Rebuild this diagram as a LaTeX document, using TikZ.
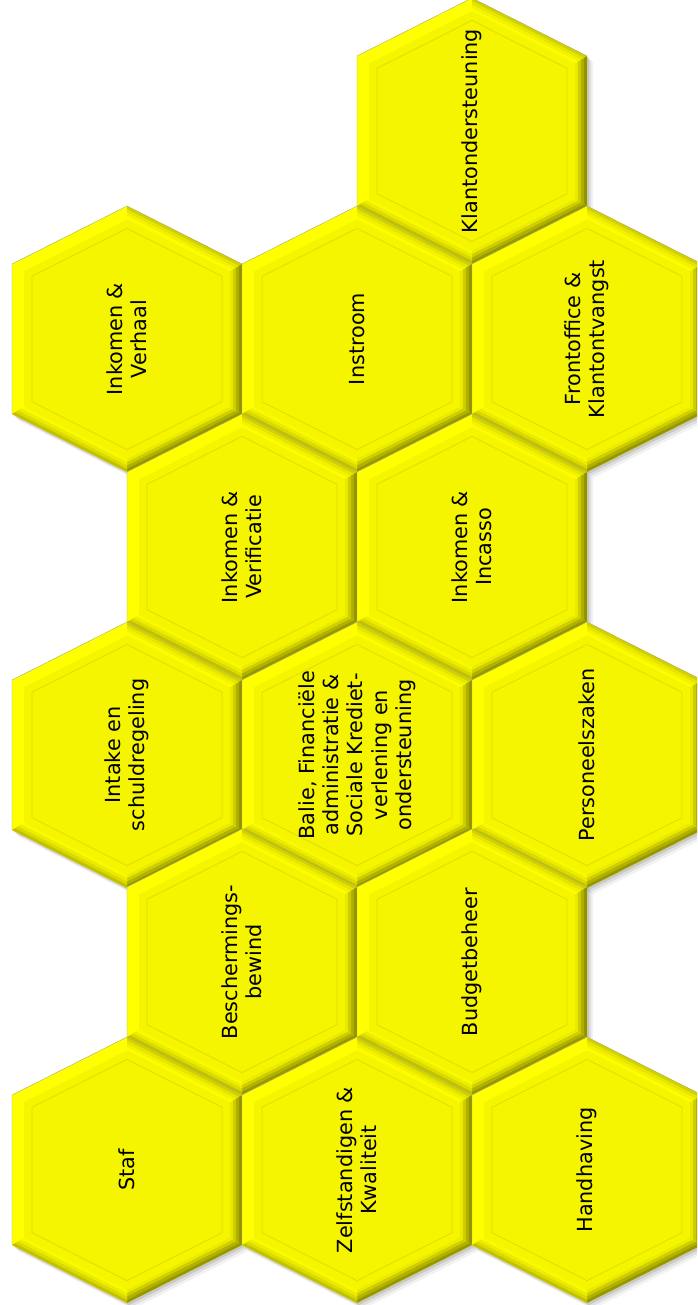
\documentclass[tikz,border=0pt]{standalone}
\usepackage{fontspec}
\setmainfont{DejaVu Sans}
\definecolor{hexfill}{RGB}{245,245,0}
\definecolor{bevlight}{RGB}{255,255,0}
\definecolor{bevdark}{RGB}{100,100,0}
\definecolor{engr}{RGB}{222,222,0}
\definecolor{hexrim}{RGB}{170,170,120}
\tikzset{
  hexlabel/.style={rotate=90, align=center, font=\fontsize{20.8}{24.3}\selectfont, text=black, inner sep=0pt},
}
\newcommand\hexshadow[2]{%
  \foreach \o/\op in {2/0.10,4/0.08,6/0.05}{%
    \fill[black, opacity=\op] ($(#1,#2)+(\o,\o)$) ++(0,-133) -- ++(115,58) -- ++(0,150) -- ++(-115,58) -- ++(-115,-58) -- ++(0,-150) -- cycle;
  }%
}
\newcommand\hexcell[4]{%
  \begin{scope}[shift={(#1,#2)}]
    \fill[bevlight] (0,-133) -- (115,-75) -- (115,75) -- (0,133) -- (-115,75) -- (-115,-75) -- cycle;
    \foreach \da/\db/\ptr/\pr/\pbr/\pbl in {0/3.2/70/30/33/60, 3/6.2/83/48/50/76, 6/9.2/92/67/69/88, 9/12/99/86/87/96}{%
      \pgfmathsetmacro\wa{115-\da}\pgfmathsetmacro\va{133-1.1203*\da}\pgfmathsetmacro\sa{75-0.616*\da}%
      \pgfmathsetmacro\wb{115-\db}\pgfmathsetmacro\vb{133-1.1203*\db}\pgfmathsetmacro\sb{75-0.616*\db}%
      \fill[bevlight!\ptr!bevdark] (0,-\va) -- (\wa,-\sa) -- (\wb,-\sb) -- (0,-\vb) -- cycle;
      \fill[bevlight!\pr!bevdark] (\wa,-\sa) -- (\wa,\sa) -- (\wb,\sb) -- (\wb,-\sb) -- cycle;
      \fill[bevlight!\pbr!bevdark] (\wa,\sa) -- (0,\va) -- (0,\vb) -- (\wb,\sb) -- cycle;
      \fill[bevlight!\pbl!bevdark] (0,\va) -- (-\wa,\sa) -- (-\wb,\sb) -- (0,\vb) -- cycle;
    }
    \fill[hexfill] (0,-119.6) -- (103,-67.6) -- (103,67.6) -- (0,119.6) -- (-103,67.6) -- (-103,-67.6) -- cycle;
    \draw[engr, line width=0.8pt] (0,-110.6) -- (95,-62.7) -- (95,62.7) -- (0,110.6) -- (-95,62.7) -- (-95,-62.7) -- cycle;
    \draw[hexrim, line width=0.4pt] (-115,75) -- (-115,-75) -- (0,-133) -- (115,-75);
    \node[hexlabel] (#3) at (0,0) {#4};
  \end{scope}%
}
\usetikzlibrary{calc}
\begin{document}
\begin{tikzpicture}[x=1pt,y=-1pt]
\useasboundingbox (0,0) rectangle (697,1305);
\clip (0,0) rectangle (697,1305);
% shadows
\hexshadow{472}{131}
\hexshadow{127}{339}
\hexshadow{357}{339}
\hexshadow{587}{339}
\hexshadow{242}{547}
\hexshadow{472}{547}
\hexshadow{127}{755}
\hexshadow{357}{755}
\hexshadow{587}{755}
\hexshadow{242}{962}
\hexshadow{472}{962}
\hexshadow{127}{1170}
\hexshadow{357}{1170}
\hexshadow{587}{1170}
% cells
\hexcell{472}{131}{klant}{Klantondersteuning}
\hexcell{127}{339}{verhaal}{Inkomen \&\\Verhaal}
\hexcell{357}{339}{instroom}{Instroom}
\hexcell{587}{339}{front}{Frontoffice \&\\Klantontvangst}
\hexcell{242}{547}{verif}{Inkomen \&\\Verificatie}
\hexcell{472}{547}{incasso}{Inkomen \&\\Incasso}
\hexcell{127}{755}{intake}{Intake en\\schuldregeling}
\hexcell{357}{755}{balie}{Balie, Financiële\\administratie \&\\Sociale Krediet-\\verlening en\\ondersteuning}
\hexcell{587}{755}{personeel}{Personeelszaken}
\hexcell{242}{962}{bescherm}{Beschermings-\\bewind}
\hexcell{472}{962}{budget}{Budgetbeheer}
\hexcell{127}{1170}{staf}{Staf}
\hexcell{357}{1170}{zelf}{Zelfstandigen \&\\Kwaliteit}
\hexcell{587}{1170}{handhaving}{Handhaving}
\end{tikzpicture}
\end{document}
